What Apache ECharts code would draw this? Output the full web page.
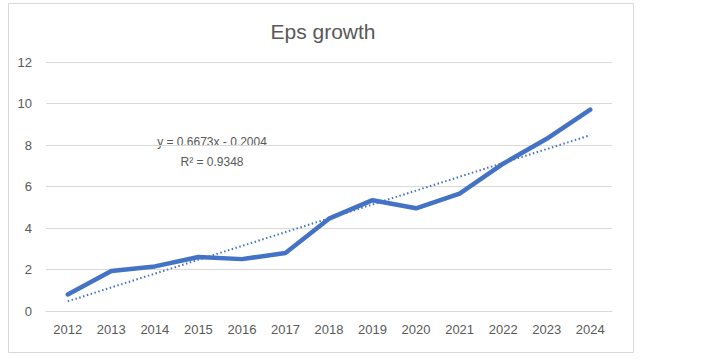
<!DOCTYPE html>
<html>
<head>
<meta charset="utf-8">
<script src="https://cdn.jsdelivr.net/npm/echarts@6/dist/echarts.min.js"></script>
<style>
html,body{margin:0;padding:0;background:#fff;}
#chart{width:705px;height:363px;}
</style>
</head>
<body>
<div id="chart"></div>
<script>
const titleText = 'Eps growth';
const years = ['2012','2013','2014','2015','2016','2017','2018','2019','2020','2021','2022','2023','2024'];
const eps = [0.8, 1.93, 2.15, 2.6, 2.5, 2.8, 4.45, 5.34, 4.95, 5.66, 7.1, 8.3, 9.71];
// Linear trendline endpoints (from y = 0.6673x - 0.2004 at first and last year)
const trendPoints = [[0, 0.467], [12, 8.47]];
const equationText = 'y = 0.6673x - 0.2004';
const r2Text = 'R² = 0.9348';
const yTicks = [0, 2, 4, 6, 8, 10, 12];

const FONT = '"Liberation Sans", Arial, sans-serif';
const chart = echarts.init(document.getElementById('chart'), null, {renderer: 'svg'});
chart.setOption({
  backgroundColor: '#ffffff',
  animation: false,
  title: {
    text: titleText,
    left: 318, top: 16, textAlign: 'center',
    textStyle: {fontFamily: FONT, fontSize: 21, fontWeight: 'normal', color: '#595959'}
  },
  grid: {left: 46, right: 93, top: 62, bottom: 52, containLabel: false},
  xAxis: {
    type: 'category',
    data: years,
    boundaryGap: true,
    axisLine: {show: true, lineStyle: {color: '#d9d9d9', width: 1}},
    axisTick: {show: false},
    axisLabel: {fontFamily: FONT, fontSize: 13, color: '#595959', margin: 12, interval: 0}
  },
  yAxis: {
    type: 'value',
    min: yTicks[0], max: yTicks[yTicks.length - 1], interval: 2,
    axisLine: {show: false},
    axisTick: {show: false},
    splitLine: {lineStyle: {color: '#d9d9d9', width: 1}},
    axisLabel: {fontFamily: FONT, fontSize: 13, color: '#595959', margin: 14}
  },
  series: [
    {
      name: 'EPS',
      type: 'line',
      data: eps,
      symbol: 'none',
      lineStyle: {color: '#4472C4', width: 4.5, cap: 'round', join: 'round'},
      z: 3
    },
    {
      name: 'Trend',
      type: 'line',
      data: trendPoints,
      symbol: 'none',
      lineStyle: {color: '#4472C4', width: 2, type: [1.5, 2.5]},
      z: 2
    }
  ],
  graphic: [
    {
      type: 'rect', left: 6, top: 1, silent: true,
      shape: {x: 0, y: 0, width: 625, height: 349},
      style: {fill: 'none', stroke: '#d9d9d9', lineWidth: 1}
    },
    {
      type: 'text', x: 212, y: 142,
      style: {text: equationText, fontFamily: FONT, fontSize: 12, fill: '#595959', textAlign: 'center', textVerticalAlign: 'middle'}
    },
    {
      type: 'text', x: 212, y: 162,
      style: {text: r2Text, fontFamily: FONT, fontSize: 12, fill: '#595959', textAlign: 'center', textVerticalAlign: 'middle'}
    }
  ]
});
</script>
</body>
</html>
